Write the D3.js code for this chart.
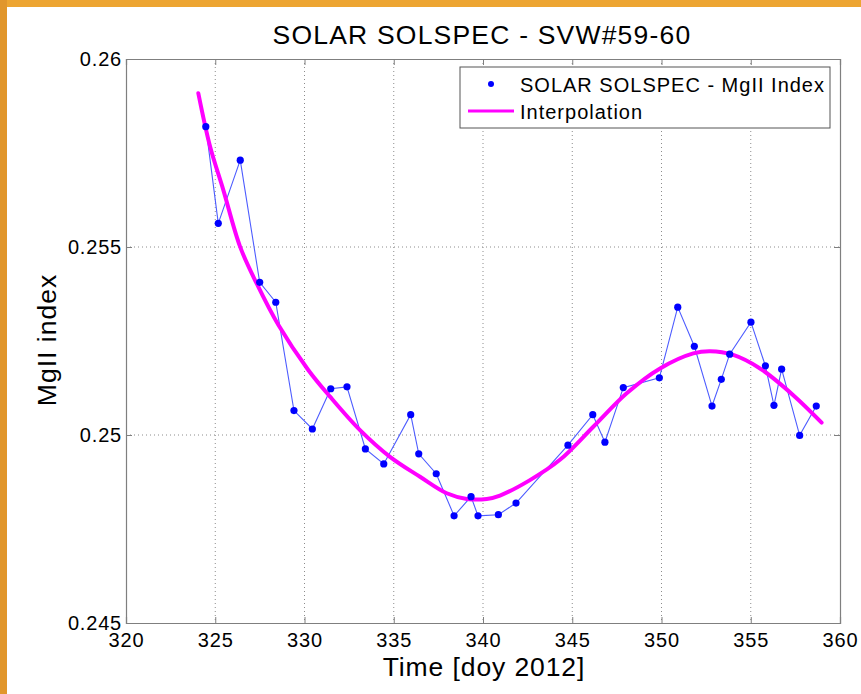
<!DOCTYPE html>
<html><head><meta charset="utf-8">
<script src="https://cdn.jsdelivr.net/npm/d3@7"></script>
<style>
html,body{margin:0;padding:0;background:#fff;}
svg{display:block;font-family:"Liberation Sans",Arial,sans-serif;}
</style></head>
<body>
<svg id="chart" width="861" height="694"></svg>
<script>
const titleText = "SOLAR SOLSPEC - SVW#59-60";
const xLabel = "Time [doy 2012]";
const yLabel = "MgII index";
const legendLabels = ["SOLAR SOLSPEC - MgII Index", "Interpolation"];
const xTicks = [320,325,330,335,340,345,350,355,360];
const yTicks = [0.245,0.25,0.255,0.26];
const yTickLabels = ["0.245","0.25","0.255","0.26"];

const obsDay = [324.47,325.17,326.40,327.49,328.39,329.41,330.44,331.47,332.38,333.41,334.44,335.95,336.40,337.38,338.38,339.33,339.72,340.86,341.85,344.76,346.15,346.83,347.86,349.88,350.91,351.84,352.83,353.35,353.82,355.01,355.82,356.30,356.73,357.74,358.67];
const obsMg  = [0.25820,0.25563,0.25731,0.25406,0.25353,0.25065,0.25016,0.25123,0.25128,0.24963,0.24923,0.25054,0.24950,0.24897,0.24785,0.24836,0.24785,0.24788,0.24819,0.24973,0.25054,0.24981,0.25126,0.25152,0.25340,0.25236,0.25077,0.25148,0.25215,0.25300,0.25184,0.25079,0.25175,0.24999,0.25077];

const fitDay = [324.05,324.71,325.45,326.39,327.32,328.53,330.21,331.43,333.11,334.79,336.47,337.97,339.09,340.21,340.95,342.63,344.31,346.18,348.05,349.92,351.78,352.72,354.02,355.52,357.38,358.97];
const fitMg  = [0.25909,0.25767,0.25652,0.25501,0.25403,0.25293,0.25173,0.25102,0.25013,0.24942,0.24889,0.24845,0.24830,0.24830,0.24839,0.24880,0.24934,0.25022,0.25111,0.25177,0.25217,0.25223,0.25213,0.25177,0.25106,0.25033];

const svg = d3.select("#chart");
// orange frame
svg.append("rect").attr("x",0).attr("y",0).attr("width",861).attr("height",7).attr("fill","#eda532");
svg.append("rect").attr("x",0).attr("y",0).attr("width",7).attr("height",694).attr("fill","#e1962c");

const L=126, T=59, R=840, B=623;
const x = d3.scaleLinear().domain([320,360]).range([L,R]);
const y = d3.scaleLinear().domain([0.245,0.26]).range([B,T]);
const axisColor = "#7f7f7f";

// grid
const grid = svg.append("g");
xTicks.slice(1,-1).forEach(t=>{
  grid.append("line").attr("x1",x(t)).attr("x2",x(t)).attr("y1",T).attr("y2",B)
    .attr("stroke","#8c8c8c").attr("stroke-width",1).attr("stroke-dasharray","1,3");
});
yTicks.slice(1,-1).forEach(t=>{
  grid.append("line").attr("x1",L).attr("x2",R).attr("y1",y(t)).attr("y2",y(t))
    .attr("stroke","#8c8c8c").attr("stroke-width",1).attr("stroke-dasharray","1,3");
});

// axes with inward ticks
const fs = "20px";
const xAxisB = d3.axisBottom(x).tickValues(xTicks).tickSize(-6).tickPadding(10).tickFormat(d3.format("d"));
const gxb = svg.append("g").attr("transform",`translate(0,${B})`).call(xAxisB);
const xAxisT = d3.axisTop(x).tickValues(xTicks).tickSize(-6).tickFormat("");
const gxt = svg.append("g").attr("transform",`translate(0,${T})`).call(xAxisT);
const yAxisL = d3.axisLeft(y).tickValues(yTicks).tickSize(-6).tickPadding(4).tickFormat((d,i)=>yTickLabels[i]);
const gyl = svg.append("g").attr("transform",`translate(${L},0)`).call(yAxisL);
const yAxisR = d3.axisRight(y).tickValues(yTicks).tickSize(-6).tickFormat("");
const gyr = svg.append("g").attr("transform",`translate(${R},0)`).call(yAxisR);
[gxb,gxt,gyl,gyr].forEach(g=>{
  g.select(".domain").attr("stroke",axisColor).attr("stroke-width",1.2);
  g.selectAll(".tick line").attr("stroke",axisColor);
  g.selectAll(".tick text").attr("fill","#000").style("font-size",fs).style("letter-spacing","0.8px")
    .style("font-family","Liberation Sans, Arial, sans-serif");
});

// observation line
const obs = obsDay.map((d,i)=>[d,obsMg[i]]);
const fit = fitDay.map((d,i)=>[d,fitMg[i]]);
const line = d3.line().x(d=>x(d[0])).y(d=>y(d[1]));
svg.append("path").datum(obs).attr("d",line).attr("fill","none").attr("stroke","#4d5cff").attr("stroke-width",1.1);
svg.append("path").datum(fit).attr("d",line.curve(d3.curveCatmullRom.alpha(0.5))).attr("fill","none")
  .attr("stroke","#ff00ff").attr("stroke-width",4).attr("stroke-linecap","round");
svg.selectAll("circle.obs").data(obs).enter().append("circle").attr("class","obs")
  .attr("cx",d=>x(d[0])).attr("cy",d=>y(d[1])).attr("r",3.6).attr("fill","#0000ff");

// legend
const lg = svg.append("g");
lg.append("rect").attr("x",460).attr("y",67).attr("width",370).attr("height",61).attr("fill","#fff").attr("stroke","#555").attr("stroke-width",1);
lg.append("circle").attr("cx",491).attr("cy",84).attr("r",3).attr("fill","#0000ff");
lg.append("line").attr("x1",468).attr("x2",514).attr("y1",111).attr("y2",111).attr("stroke","#ff00ff").attr("stroke-width",3);
lg.append("text").attr("x",520).attr("y",92).style("font-size","20px").style("letter-spacing","1px").text(legendLabels[0]);
lg.append("text").attr("x",520).attr("y",119).style("font-size","20px").style("letter-spacing","1px").text(legendLabels[1]);

// titles
svg.append("text").attr("x",482).attr("y",44).attr("text-anchor","middle").style("font-size","26.5px").style("letter-spacing","1.2px").text(titleText);
svg.append("text").attr("x",484).attr("y",676).attr("text-anchor","middle").style("font-size","26.5px").style("letter-spacing","0.9px").text(xLabel);
svg.append("text").attr("transform","translate(56,340) rotate(-90)").attr("text-anchor","middle").style("font-size","26.5px").style("letter-spacing","1px").text(yLabel);
</script>
</body></html>
